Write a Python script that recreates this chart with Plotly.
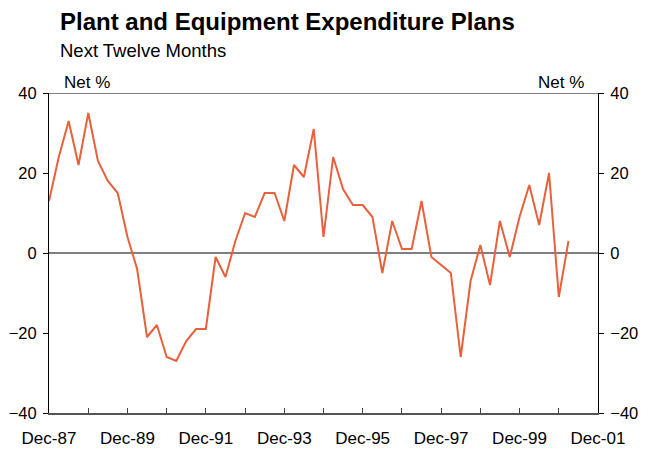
import pandas as pd
import plotly.graph_objects as go

# Quarterly net balance, Dec-87 .. Mar-01
start_quarter = "1987-12-01"
net_balance = [13, 24, 33, 22, 35, 23, 18, 15, 4, -4,
               -21, -18, -26, -27, -22, -19, -19, -1, -6, 3,
               10, 9, 15, 15, 8, 22, 19, 31, 4, 24,
               16, 12, 12, 9, -5, 8, 1, 1, 13, -1,
               -3, -5, -26, -7, 2, -8, 8, -1, 9, 17,
               7, 20, -11, 3]
tick_dates = ["1987-12-01", "1989-12-01", "1991-12-01", "1993-12-01",
              "1995-12-01", "1997-12-01", "1999-12-01", "2001-12-01"]
tick_labels = ["Dec-87", "Dec-89", "Dec-91", "Dec-93",
               "Dec-95", "Dec-97", "Dec-99", "Dec-01"]
y_ticks = [-40, -20, 0, 20, 40]

dates = pd.date_range(start=start_quarter, periods=len(net_balance), freq="3MS")

FONT = "Arial, Liberation Sans, sans-serif"
LINE_COLOR = "#E8603C"

fig = go.Figure()
fig.add_trace(go.Scatter(x=dates, y=net_balance, mode="lines",
                         line=dict(color=LINE_COLOR, width=2), showlegend=False))
# invisible copy so the right-hand axis gets drawn
fig.add_trace(go.Scatter(x=dates, y=net_balance, mode="lines", yaxis="y2",
                         line=dict(color="rgba(0,0,0,0)", width=0),
                         showlegend=False, hoverinfo="skip"))

yax = dict(range=[-40, 40], tickvals=y_ticks, showgrid=False, automargin=False,
           ticks="outside", ticklen=5, tickcolor="black", ticklabelstandoff=3,
           showline=True, linecolor="black", linewidth=1,
           tickfont=dict(size=16.5, family=FONT, color="black"))

fig.update_layout(
    width=651, height=453,
    margin=dict(l=49, r=53, t=93, b=40),
    plot_bgcolor="white", paper_bgcolor="white",
    font=dict(family=FONT, color="black"),
    xaxis=dict(range=[tick_dates[0], tick_dates[-1]], tickvals=tick_dates,
               ticktext=tick_labels, showgrid=False, automargin=False,
               ticks="inside", ticklen=5, tickcolor="#444", ticklabelstandoff=9,
               minor=dict(dtick="M12", tick0=tick_dates[0], ticks="inside",
                          ticklen=5, tickcolor="#444", showgrid=False),
               showline=True, linecolor="#555", linewidth=2,
               tickfont=dict(size=17, family=FONT, color="black")),
    yaxis=dict(**yax, zeroline=True, zerolinecolor="#7f7f7f", zerolinewidth=2),
    yaxis2=dict(**yax, overlaying="y", side="right", zeroline=False),
)

# top border at 40
fig.add_shape(type="line", xref="paper", yref="y", x0=0, x1=1, y0=40, y1=40,
              line=dict(color="#7f7f7f", width=2))

fig.add_annotation(text="<b>Plant and Equipment Expenditure Plans</b>",
                   xref="paper", yref="paper", x=0.017, y=1.222,
                   xanchor="left", yanchor="middle", showarrow=False,
                   font=dict(size=24, family=FONT, color="black"))
fig.add_annotation(text="Next Twelve Months",
                   xref="paper", yref="paper", x=0.017, y=1.134,
                   xanchor="left", yanchor="middle", showarrow=False,
                   font=dict(size=18.5, family=FONT, color="black"))
fig.add_annotation(text="Net %", xref="paper", yref="paper", x=0.023, y=1.034,
                   xanchor="left", yanchor="middle", showarrow=False,
                   font=dict(size=17, family=FONT, color="black"))
fig.add_annotation(text="Net %", xref="paper", yref="paper", x=0.978, y=1.034,
                   xanchor="right", yanchor="middle", showarrow=False,
                   font=dict(size=17, family=FONT, color="black"))

fig.write_html("out.html", config={"displayModeBar": False},
               post_script="document.body.style.margin='0px';")
